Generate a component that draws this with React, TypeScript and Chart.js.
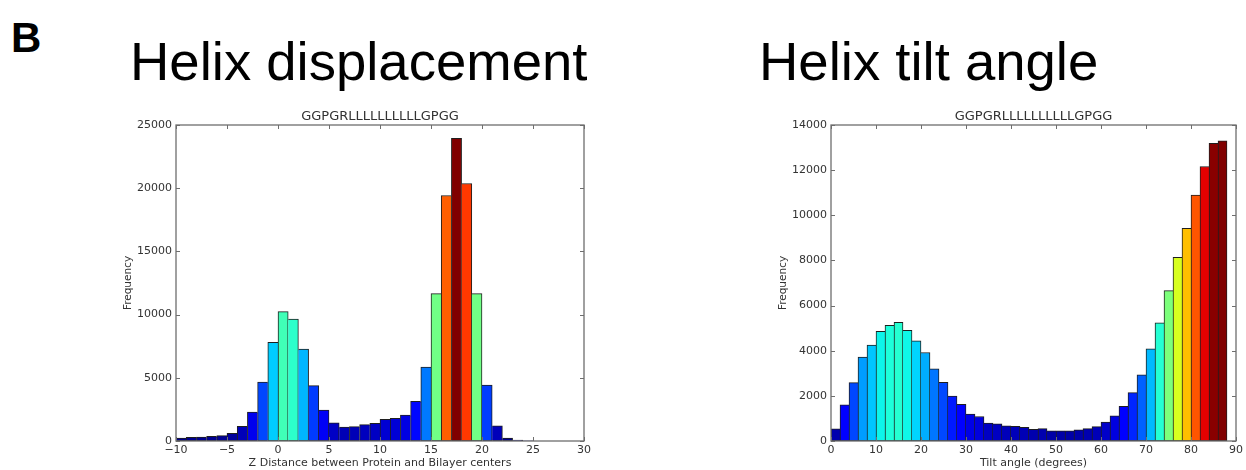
import { useEffect, useRef } from "react";
import { Chart, registerables } from "chart.js";

Chart.register(...registerables);

// ---- data ----
const SEQUENCE = "GGPGRLLLLLLLLLLGPGG";

// Z distance histogram: lower edge of each 1 Å bin and its count
const displacementBinStarts = [
  -10, -9, -8, -7, -6, -5, -4, -3, -2, -1,
  0, 1, 2, 3, 4, 5, 6, 7, 8, 9,
  10, 11, 12, 13, 14, 15, 16, 17, 18, 19,
  20, 21, 22, 23, 24,
];
const displacementCounts = [
  240, 290, 320, 370, 420, 610, 1170, 2280, 4670, 7800,
  10240, 9650, 7270, 4380, 2440, 1430, 1110, 1140, 1300, 1400,
  1710, 1790, 2050, 3130, 5840, 11660, 19420, 23950, 20370, 11660,
  4420, 1210, 240, 80, 20,
];
const displacementBinWidth = 1;

// Tilt angle histogram: lower edge of each 2° bin and its count
const tiltBinStarts = [
  0, 2, 4, 6, 8, 10, 12, 14, 16, 18,
  20, 22, 24, 26, 28, 30, 32, 34, 36, 38,
  40, 42, 44, 46, 48, 50, 52, 54, 56, 58,
  60, 62, 64, 66, 68, 70, 72, 74, 76, 78,
  80, 82, 84, 86,
];
const tiltCounts = [
  535, 1605, 2585, 3715, 4250, 4860, 5125, 5260, 4900, 4440,
  3920, 3195, 2600, 1990, 1620, 1190, 1085, 790, 760, 670,
  650, 610, 520, 545, 450, 450, 450, 490, 545, 635,
  840, 1110, 1540, 2140, 2930, 4080, 5230, 6660, 8140, 9420,
  10900, 12160, 13190, 13300,
];
const tiltBinWidth = 2;

// ---- styling ----
const TEXT = "#333333";
const FRAME = "#6e6e6e";
const EDGE = "#1e1e1e";
const AXIS_FONT = "'DejaVu Sans', 'Bitstream Vera Sans', sans-serif";

// matplotlib "jet" colormap segments
const JET: Record<string, number[][]> = {
  r: [[0, 0], [0.35, 0], [0.66, 1], [0.89, 1], [1, 0.5]],
  g: [[0, 0], [0.125, 0], [0.375, 1], [0.64, 1], [0.91, 0], [1, 0]],
  b: [[0, 0.5], [0.11, 1], [0.34, 1], [0.65, 0], [1, 0]],
};

function channel(seg: number[][], v: number): number {
  for (let i = 1; i < seg.length; i++) {
    const [x0, y0] = seg[i - 1];
    const [x1, y1] = seg[i];
    if (v <= x1) return y0 + ((v - x0) / (x1 - x0)) * (y1 - y0);
  }
  return seg[seg.length - 1][1];
}

function jet(v: number): string {
  const t = Math.max(0, Math.min(1, v));
  const c = (k: string) => Math.round(channel(JET[k], t) * 255);
  return `rgb(${c("r")},${c("g")},${c("b")})`;
}

// shared edges are drawn once, by the taller neighbour
function edgeWidths(counts: number[]) {
  return counts.map((v, i) => ({
    top: 1,
    bottom: 1,
    left: i === 0 || v >= counts[i - 1] ? 1 : 0,
    right: i === counts.length - 1 || v > counts[i + 1] ? 1 : 0,
  }));
}

const fmtTick = (v: number | string) => String(v).replace("-", "\u2212");

// frame box, inward tick marks on all four sides, and the sequence title
const framePlugin = (title: string) => ({
  id: "frameBox",
  afterDatasetsDraw(chart: any) {
    const { ctx, chartArea } = chart;
    const { left, right, top, bottom } = chartArea;
    const xs = chart.scales.x;
    const ys = chart.scales.y;
    const len = 4;
    ctx.save();
    ctx.strokeStyle = FRAME;
    ctx.lineWidth = 1;
    ctx.beginPath();
    xs.ticks.forEach((t: any) => {
      const px = Math.round(xs.getPixelForValue(t.value)) + 0.5;
      ctx.moveTo(px, bottom);
      ctx.lineTo(px, bottom - len);
      ctx.moveTo(px, top);
      ctx.lineTo(px, top + len);
    });
    ys.ticks.forEach((t: any) => {
      const py = Math.round(ys.getPixelForValue(t.value)) + 0.5;
      ctx.moveTo(left, py);
      ctx.lineTo(left + len, py);
      ctx.moveTo(right, py);
      ctx.lineTo(right - len, py);
    });
    ctx.stroke();
    ctx.lineWidth = 1.3;
    ctx.strokeRect(left, top, right - left, bottom - top);
    ctx.fillStyle = TEXT;
    ctx.font = `13px ${AXIS_FONT}`;
    ctx.textAlign = "center";
    ctx.textBaseline = "middle";
    ctx.fillText(title, (left + right) / 2, top - 8.5);
    ctx.restore();
  },
});

type PanelProps = {
  starts: number[];
  counts: number[];
  binWidth: number;
  xMin: number;
  xMax: number;
  xStep: number;
  yMax: number;
  yStep: number;
  xTitle: string;
  left: number;
  width: number;
  yAxisWidth: number;
  yTitlePad: number;
  rightPad: number;
};

function HistogramPanel(p: PanelProps) {
  const ref = useRef<HTMLCanvasElement>(null);
  const height = 370;

  useEffect(() => {
    if (!ref.current) return;
    const peak = Math.max(...p.counts);
    const widths = edgeWidths(p.counts);
    const chart = new Chart(ref.current, {
      type: "bar",
      data: {
        datasets: [
          {
            data: p.starts.map((s, i) => ({ x: s + p.binWidth / 2, y: p.counts[i] })),
            backgroundColor: p.counts.map((c) => jet(c / peak)),
            borderColor: EDGE,
            borderWidth: (ctx: any) => widths[ctx.dataIndex],
            borderSkipped: false,
            barPercentage: 1,
            categoryPercentage: 1,
          } as any,
        ],
      },
      options: {
        animation: false,
        responsive: false,
        maintainAspectRatio: false,
        layout: { padding: { top: 25, right: p.rightPad, left: 0, bottom: 0 } },
        plugins: {
          legend: { display: false },
          tooltip: { enabled: false },
          title: { display: false },
        },
        scales: {
          x: {
            type: "linear",
            min: p.xMin,
            max: p.xMax,
            offset: false,
            grid: { display: false, drawTicks: false },
            border: { display: false },
            ticks: {
              stepSize: p.xStep,
              autoSkip: false,
              maxRotation: 0,
              padding: 3,
              color: TEXT,
              font: { family: AXIS_FONT, size: 11 },
              callback: (v: any) => fmtTick(v),
            },
            title: {
              display: true,
              text: p.xTitle,
              color: TEXT,
              font: { family: AXIS_FONT, size: 11 },
              padding: { top: 0, bottom: 0 },
            },
            afterFit: (s: any) => {
              s.height = 29;
            },
          },
          y: {
            type: "linear",
            min: 0,
            max: p.yMax,
            grid: { display: false, drawTicks: false },
            border: { display: false },
            ticks: {
              stepSize: p.yStep,
              padding: 4,
              color: TEXT,
              font: { family: AXIS_FONT, size: 11 },
              callback: (v: any) => fmtTick(v),
            },
            title: {
              display: true,
              text: "Frequency",
              color: TEXT,
              font: { family: AXIS_FONT, size: 10.5 },
              padding: { top: p.yTitlePad, bottom: 0 },
            },
            afterFit: (s: any) => {
              s.width = p.yAxisWidth;
            },
          },
        },
      } as any,
      plugins: [framePlugin(SEQUENCE)],
    });
    return () => chart.destroy();
  }, []);

  return (
    <canvas
      ref={ref}
      width={p.width}
      height={height}
      style={{ position: "absolute", left: p.left, top: 100, width: p.width, height }}
    />
  );
}

const headingStyle: React.CSSProperties = {
  position: "absolute",
  top: 35,
  fontFamily: "'Liberation Sans', Arial, sans-serif",
  fontSize: 54.5,
  lineHeight: "54px",
  color: "#000",
  whiteSpace: "nowrap",
};

export default function App() {
  return (
    <div
      style={{
        position: "fixed",
        left: 0,
        top: 0,
        width: 1246,
        height: 470,
        background: "#fff",
        overflow: "hidden",
      }}
    >
      <div
        style={{
          position: "absolute",
          left: 11,
          top: 16.5,
          fontFamily: "'Liberation Sans', Arial, sans-serif",
          fontWeight: "bold",
          fontSize: 42,
          lineHeight: "42px",
          color: "#000",
        }}
      >
        B
      </div>
      <div style={{ ...headingStyle, left: 130 }}>Helix displacement</div>
      <div style={{ ...headingStyle, left: 759 }}>Helix tilt angle</div>

      <HistogramPanel
        starts={displacementBinStarts}
        counts={displacementCounts}
        binWidth={displacementBinWidth}
        xMin={-10}
        xMax={30}
        xStep={5}
        yMax={25000}
        yStep={5000}
        xTitle="Z Distance between Protein and Bilayer centers"
        left={100}
        width={500}
        yAxisWidth={76}
        yTitlePad={21.7}
        rightPad={16}
      />
      <HistogramPanel
        starts={tiltBinStarts}
        counts={tiltCounts}
        binWidth={tiltBinWidth}
        xMin={0}
        xMax={90}
        xStep={10}
        yMax={14000}
        yStep={2000}
        xTitle="Tilt angle (degrees)"
        left={760}
        width={486}
        yAxisWidth={71}
        yTitlePad={16.7}
        rightPad={8}
      />
    </div>
  );
}
